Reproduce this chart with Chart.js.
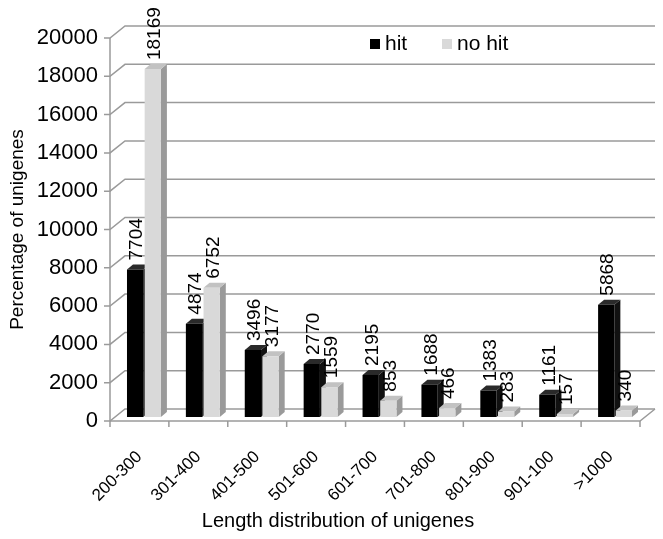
<!DOCTYPE html>
<html>
<head>
<meta charset="utf-8">
<script src="https://cdn.jsdelivr.net/npm/chart.js@4.4.0/dist/chart.umd.min.js"></script>
<style>
    html, body { margin: 0; padding: 0; background: #fff; }
    #wrap { width: 663px; height: 539px; }
</style>
</head>
<body>
<div id="wrap"><canvas id="lengthChart"></canvas></div>
<script>
// Chart data
const categories = ["200-300", "301-400", "401-500", "501-600", "601-700", "701-800", "801-900", "901-100", ">1000"];
const hitValues = [7704, 4874, 3496, 2770, 2195, 1688, 1383, 1161, 5868];
const noHitValues = [18169, 6752, 3177, 1559, 853, 466, 283, 157, 340];
const yTickValues = [0, 2000, 4000, 6000, 8000, 10000, 12000, 14000, 16000, 18000, 20000];

const FONT = "'Liberation Sans', Arial, sans-serif";
const GRID_COLOR = "#9a9a9a";

// fake 3D look: back wall depth, bar depth
const WALL_DX = 15, WALL_DY = 12;
const BAR_SHIFT_X = 4.5, BAR_SHIFT_Y = -4;
const FACE_DX = 6, FACE_DY = 5;

const sideColors = ["#111111", "#9a9a9a"];
const topColors = ["#2a2a2a", "#c2c2c2"];

function drawFrame(chart) {
    const ctx = chart.ctx;
    const area = chart.chartArea;
    const y = chart.scales.y;
    ctx.save();
    ctx.strokeStyle = GRID_COLOR;
    ctx.lineWidth = 1.5;

    // gridlines on the back wall with diagonals to the front axis
    y.ticks.forEach(function (t) {
        const py = y.getPixelForValue(t.value);
        ctx.beginPath();
        ctx.moveTo(area.left - 6, py);
        ctx.lineTo(area.left, py);
        ctx.lineTo(area.left + WALL_DX, py - WALL_DY);
        ctx.lineTo(area.right + WALL_DX, py - WALL_DY);
        ctx.stroke();
    });

    // front vertical axis
    ctx.beginPath();
    ctx.moveTo(area.left, area.bottom);
    ctx.lineTo(area.left, y.getPixelForValue(20000));
    ctx.stroke();

    // floor
    ctx.beginPath();
    ctx.moveTo(area.left, area.bottom);
    ctx.lineTo(area.right, area.bottom);
    ctx.lineTo(area.right + WALL_DX, area.bottom - WALL_DY);
    ctx.stroke();

    // category tick marks under the floor
    const step = (area.right - area.left) / categories.length;
    for (let i = 0; i <= categories.length; i++) {
        const px = area.left + i * step;
        ctx.beginPath();
        ctx.moveTo(px, area.bottom);
        ctx.lineTo(px, area.bottom + 6);
        ctx.stroke();
    }
    ctx.restore();
}

function drawFaces(chart) {
    const ctx = chart.ctx;
    chart.data.datasets.forEach(function (ds, i) {
        const meta = chart.getDatasetMeta(i);
        meta.data.forEach(function (bar) {
            const x0 = bar.x - bar.width / 2;
            const x1 = bar.x + bar.width / 2;
            const top = bar.y;
            const base = bar.base;
            // side face
            ctx.fillStyle = sideColors[i];
            ctx.beginPath();
            ctx.moveTo(x1, base);
            ctx.lineTo(x1, top);
            ctx.lineTo(x1 + FACE_DX, top - FACE_DY);
            ctx.lineTo(x1 + FACE_DX, base - FACE_DY);
            ctx.closePath();
            ctx.fill();
            // top face
            ctx.fillStyle = topColors[i];
            ctx.beginPath();
            ctx.moveTo(x0, top);
            ctx.lineTo(x0 + FACE_DX, top - FACE_DY);
            ctx.lineTo(x1 + FACE_DX, top - FACE_DY);
            ctx.lineTo(x1, top);
            ctx.closePath();
            ctx.fill();
        });
    });
}

function drawValueLabels(chart) {
    const ctx = chart.ctx;
    ctx.save();
    ctx.font = "19px " + FONT;
    ctx.fillStyle = "#000";
    ctx.textAlign = "left";
    ctx.textBaseline = "middle";
    chart.data.datasets.forEach(function (ds, i) {
        const meta = chart.getDatasetMeta(i);
        meta.data.forEach(function (bar, j) {
            ctx.save();
            ctx.translate(bar.x + 2, bar.y - FACE_DY - 4);
            ctx.rotate(-Math.PI / 2);
            ctx.fillText(String(ds.data[j]), 0, 0);
            ctx.restore();
        });
    });
    ctx.restore();
}

function drawLegendAndTitle(chart) {
    const ctx = chart.ctx;
    ctx.save();
    ctx.font = "21px " + FONT;
    ctx.textBaseline = "middle";
    ctx.textAlign = "left";
    let lx = 370;
    const ly = 44;
    chart.data.datasets.forEach(function (ds) {
        ctx.fillStyle = ds.backgroundColor;
        ctx.fillRect(lx, ly - 5, 10, 10);
        ctx.fillStyle = "#000";
        ctx.fillText(ds.label, lx + 15, ly);
        lx += 72;
    });

    // x axis title
    ctx.font = "20px " + FONT;
    ctx.textAlign = "center";
    ctx.fillText("Length distribution of unigenes", 338, 521);
    ctx.restore();
}

const fake3d = {
    id: "fake3d",
    beforeDatasetsDraw: function (chart) {
        drawFrame(chart);
        chart.ctx.save();
        chart.ctx.translate(BAR_SHIFT_X, BAR_SHIFT_Y);
        drawFaces(chart);
    },
    afterDatasetsDraw: function (chart) {
        drawValueLabels(chart);
        chart.ctx.restore();
    },
    afterDraw: function (chart) {
        drawLegendAndTitle(chart);
    },
};

document.addEventListener("DOMContentLoaded", function () {
    const ctx = document.getElementById("lengthChart");

    new Chart(ctx.getContext("2d"), {
        type: "bar",
        data: {
            labels: categories,
            datasets: [
                {
                    label: "hit",
                    data: hitValues,
                    backgroundColor: "#000000",
                    borderWidth: 0,
                    clip: false,
                },
                {
                    label: "no hit",
                    data: noHitValues,
                    backgroundColor: "#d9d9d9",
                    borderWidth: 0,
                    clip: false,
                },
            ],
        },
        options: {
            responsive: true,
            maintainAspectRatio: false,
            animation: false,
            layout: {
                padding: { top: 38, right: 23, left: 0, bottom: 0 },
            },
            datasets: {
                bar: {
                    categoryPercentage: 0.6,
                    barPercentage: 0.92,
                },
            },
            scales: {
                x: {
                    grid: { display: false },
                    border: { display: false },
                    ticks: {
                        color: "#000",
                        font: { family: FONT, size: 17 },
                        minRotation: 45,
                        maxRotation: 45,
                        padding: 18,
                    },
                    afterFit: function (scale) {
                        scale.height = 118;
                    },
                },
                y: {
                    min: 0,
                    max: 20000,
                    grid: { display: false },
                    border: { display: false },
                    afterBuildTicks: function (scale) {
                        scale.ticks = yTickValues.map(function (v) {
                            return { value: v };
                        });
                    },
                    ticks: {
                        color: "#000",
                        font: { family: FONT, size: 22 },
                        padding: 4,
                        callback: function (value) {
                            return String(value);
                        },
                    },
                    title: {
                        display: true,
                        text: "Percentage of unigenes",
                        color: "#000",
                        font: { family: FONT, size: 19 },
                        padding: { top: 6, bottom: 0 },
                    },
                    afterFit: function (scale) {
                        scale.width = 110;
                    },
                },
            },
            plugins: {
                legend: { display: false },
                tooltip: { enabled: false },
            },
        },
        plugins: [fake3d],
    });
});
</script>
</body>
</html>
